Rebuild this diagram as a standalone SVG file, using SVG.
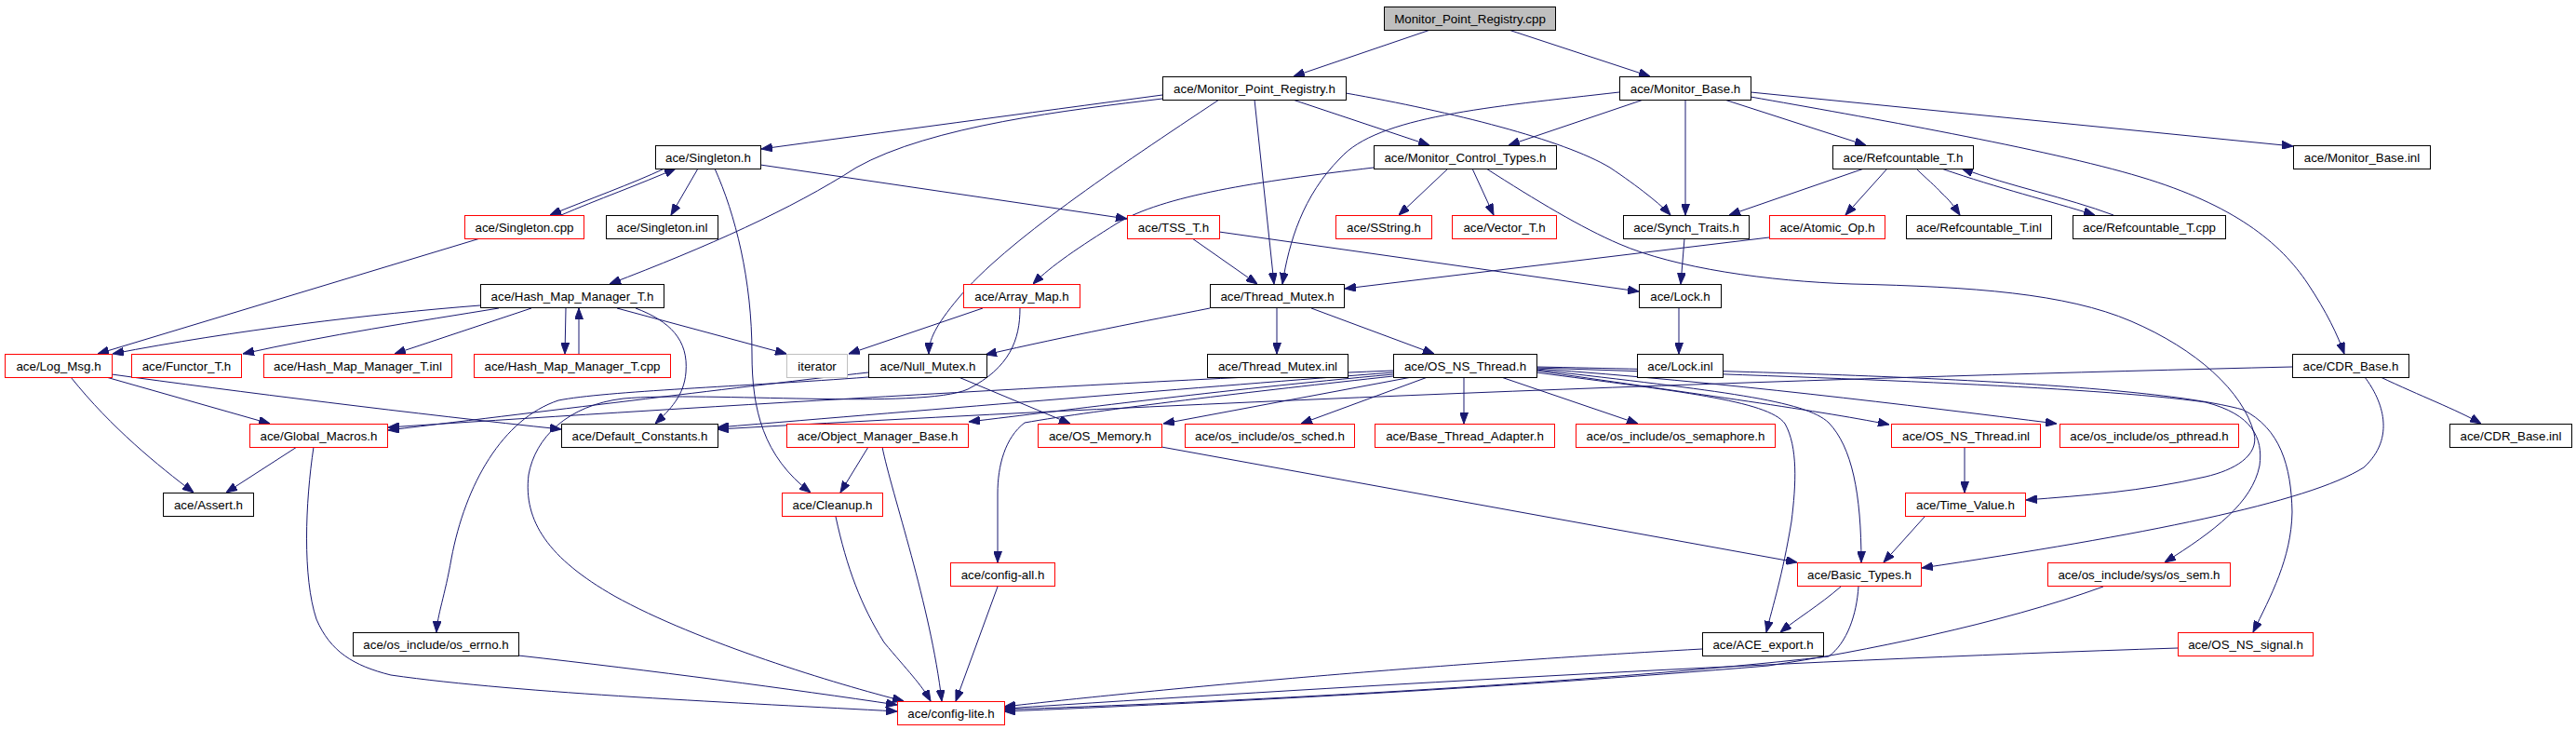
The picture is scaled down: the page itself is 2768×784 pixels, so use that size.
<svg xmlns="http://www.w3.org/2000/svg" width="2768" height="784" viewBox="0 0 2768 784">
<style>
rect{fill:#fff;stroke:#000;stroke-width:1}
.r rect{stroke:#f00}
.gr rect{stroke:#bfbfbf}
.root rect{fill:#bfbfbf}
text{font-family:"Liberation Sans",Arial,sans-serif;font-size:13.33px;text-anchor:middle;fill:#000}
#edges path{fill:none;stroke:#191970;stroke-width:1;marker-end:url(#a)}
</style>
<defs>
<marker id="a" markerWidth="12" markerHeight="9" refX="12" refY="4.5" orient="auto" markerUnits="userSpaceOnUse"><path d="M0,0 L12,4.5 L0,9 z" fill="#191970" stroke="#191970" stroke-width="1"/></marker>
</defs>
<rect x="0" y="0" width="2768" height="784" style="stroke:none;fill:#fff"/>
<g id="edges">
<path d="M1537,32 L1390,82"/>
<path d="M1621,32 L1773,82"/>
<path d="M1249,102 C1100,122 950,142 818,160"/>
<path d="M1249,106 C1150,118 1000,135 920,180 C850,225 760,265 655,305"/>
<path d="M1310,107 C1200,180 1080,260 1030,320 C1005,350 998,365 998,380"/>
<path d="M1348,107 L1369,305"/>
<path d="M1389,107 L1536,156"/>
<path d="M1446,100 C1560,120 1680,150 1730,180 C1760,200 1785,220 1795,231"/>
<path d="M1740,99 C1600,115 1480,125 1440,170 C1400,210 1385,260 1378,305"/>
<path d="M1766,107 L1621,156"/>
<path d="M1811,107 L1811,231"/>
<path d="M1853,107 L2005,156"/>
<path d="M1881,99 L2464,157"/>
<path d="M1881,104 C2000,125 2200,160 2300,190 C2400,220 2450,260 2480,305 C2500,335 2512,360 2519,380"/>
<path d="M714,181 C680,197 630,215 591,231"/>
<path d="M603,231 C640,215 690,197 726,181"/>
<path d="M750,181 L721,231"/>
<path d="M768,181 C790,230 808,300 808,380 C808,440 820,490 871,529"/>
<path d="M817,177 L1211,235"/>
<path d="M1476,180 C1350,195 1250,210 1200,240 C1160,265 1130,285 1110,305"/>
<path d="M1556,181 L1503,231"/>
<path d="M1582,181 L1605,231"/>
<path d="M1597,181 C1650,215 1700,245 1740,262 C1800,288 1900,302 1990,305 C2120,308 2220,315 2290,345 C2360,375 2410,420 2422,465 C2428,490 2400,505 2370,512 C2300,528 2240,532 2177,537"/>
<path d="M2003,181 L1858,231"/>
<path d="M2028,181 L1983,231"/>
<path d="M2059,181 C2070,192 2080,200 2086,207 C2095,215 2100,222 2106,231"/>
<path d="M2086,181 C2150,203 2200,215 2251,231"/>
<path d="M2271,231 C2220,212 2160,200 2108,181"/>
<path d="M1281,256 L1351,305"/>
<path d="M1310,249 L1761,313"/>
<path d="M1810,256 L1806,305"/>
<path d="M1901,255 L1445,310"/>
<path d="M516,256 L105,380"/>
<path d="M516,328 C400,337 250,355 121,380"/>
<path d="M536,331 C450,345 350,360 261,380"/>
<path d="M571,331 L424,380"/>
<path d="M608,331 L607,380"/>
<path d="M622,380 L622,331"/>
<path d="M663,331 L845,380"/>
<path d="M683,331 C720,345 740,365 737,400 C735,425 720,440 704,455"/>
<path d="M1056,331 L912,380"/>
<path d="M1096,331 C1096,365 1085,395 1040,418 C990,440 760,420 670,428 C610,435 575,470 568,510 C562,560 590,600 660,640 C750,690 900,735 971,753"/>
<path d="M1300,331 C1230,345 1150,360 1059,381"/>
<path d="M1372,331 L1372,380"/>
<path d="M1409,331 L1541,380"/>
<path d="M1804,331 L1804,380"/>
<path d="M76,405 C120,460 170,500 208,529"/>
<path d="M114,405 L290,455"/>
<path d="M120,402 C250,420 450,445 603,461"/>
<path d="M319,480 L243,529"/>
<path d="M337,480 C328,540 325,620 340,665 C355,700 380,715 420,725 C560,745 800,755 964,764"/>
<path d="M933,400 C800,415 600,440 417,462"/>
<path d="M1030,405 L1150,455"/>
<path d="M933,405 C800,415 650,420 600,430 C540,450 500,520 485,600 C478,640 470,660 469,679"/>
<path d="M1497,398 C1200,410 700,440 417,459"/>
<path d="M1497,400 C1300,415 1000,440 771,459"/>
<path d="M2463,394 C2000,405 1400,425 771,461"/>
<path d="M1497,402 C1300,420 1150,440 1041,453"/>
<path d="M1517,405 L1250,455"/>
<path d="M1534,405 L1398,455"/>
<path d="M1497,404 C1350,420 1180,440 1101,454 C1080,470 1072,500 1072,530 L1072,604"/>
<path d="M1573,405 L1573,455"/>
<path d="M1613,405 L1760,455"/>
<path d="M1651,398 C1800,420 1950,440 2030,456"/>
<path d="M1651,396 C1850,410 2050,435 2210,455"/>
<path d="M1651,400 C1800,420 1900,430 1918,455 C1932,480 1930,520 1925,560 C1915,620 1905,650 1898,679"/>
<path d="M1651,397 C1850,420 1940,430 1965,454 C1990,480 2000,530 2000,604"/>
<path d="M1651,395 C1950,405 2250,415 2370,432 C2420,445 2432,470 2428,500 C2420,540 2380,570 2326,604"/>
<path d="M1651,394 C1950,400 2300,410 2410,440 C2450,460 2462,500 2463,550 C2462,600 2440,640 2421,679"/>
<path d="M1248,480 L1931,604"/>
<path d="M2068,555 L2024,604"/>
<path d="M2541,405 C2560,430 2575,470 2540,502 C2480,540 2300,575 2065,610"/>
<path d="M2558,405 C2600,425 2640,440 2666,455"/>
<path d="M2111,480 L2111,529"/>
<path d="M933,480 L903,529"/>
<path d="M948,480 C958,530 1000,650 1012,753"/>
<path d="M898,555 C910,610 925,650 950,690 C975,720 990,735 1000,753"/>
<path d="M1072,630 L1027,753"/>
<path d="M557,704 C700,720 850,740 964,757"/>
<path d="M1829,697 C1500,715 1200,745 1079,759"/>
<path d="M1997,630 C1995,660 1985,690 1965,705 C1700,735 1300,755 1079,762"/>
<path d="M2260,630 C2150,670 2000,700 1900,715 C1600,740 1300,755 1079,764"/>
<path d="M2340,696 C1900,710 1400,740 1079,761"/>
<path d="M1978,630 C1955,650 1930,665 1913,679"/>
</g>
<g id="n_mprcpp" class="root"><rect x="1487.5" y="7.5" width="184" height="25"/><text x="1579.5" y="24.5">Monitor_Point_Registry.cpp</text></g>
<g id="n_mprh"><rect x="1249.5" y="82.5" width="197" height="25"/><text x="1348" y="99.5">ace/Monitor_Point_Registry.h</text></g>
<g id="n_mbh"><rect x="1740.5" y="82.5" width="141" height="25"/><text x="1811" y="99.5">ace/Monitor_Base.h</text></g>
<g id="n_singh"><rect x="704.5" y="156.5" width="113" height="25"/><text x="761" y="173.5">ace/Singleton.h</text></g>
<g id="n_mct"><rect x="1476.5" y="156.5" width="196" height="25"/><text x="1574.5" y="173.5">ace/Monitor_Control_Types.h</text></g>
<g id="n_refch"><rect x="1969.5" y="156.5" width="151" height="25"/><text x="2045" y="173.5">ace/Refcountable_T.h</text></g>
<g id="n_mbinl"><rect x="2464.5" y="156.5" width="147" height="25"/><text x="2538" y="173.5">ace/Monitor_Base.inl</text></g>
<g id="n_singcpp" class="r"><rect x="499.5" y="231.5" width="128" height="25"/><text x="563.5" y="248.5">ace/Singleton.cpp</text></g>
<g id="n_singinl"><rect x="651.5" y="231.5" width="120" height="25"/><text x="711.5" y="248.5">ace/Singleton.inl</text></g>
<g id="n_tss" class="r"><rect x="1211.5" y="231.5" width="99" height="25"/><text x="1261" y="248.5">ace/TSS_T.h</text></g>
<g id="n_sstring" class="r"><rect x="1435.5" y="231.5" width="103" height="25"/><text x="1487" y="248.5">ace/SString.h</text></g>
<g id="n_vector" class="r"><rect x="1560.5" y="231.5" width="112" height="25"/><text x="1616.5" y="248.5">ace/Vector_T.h</text></g>
<g id="n_synch"><rect x="1744.5" y="231.5" width="135" height="25"/><text x="1812" y="248.5">ace/Synch_Traits.h</text></g>
<g id="n_atomic" class="r"><rect x="1901.5" y="231.5" width="124" height="25"/><text x="1963.5" y="248.5">ace/Atomic_Op.h</text></g>
<g id="n_refcinl"><rect x="2048.5" y="231.5" width="156" height="25"/><text x="2126.5" y="248.5">ace/Refcountable_T.inl</text></g>
<g id="n_refccpp"><rect x="2227.5" y="231.5" width="164" height="25"/><text x="2309.5" y="248.5">ace/Refcountable_T.cpp</text></g>
<g id="n_hmmh"><rect x="516.5" y="305.5" width="197" height="25"/><text x="615" y="322.5">ace/Hash_Map_Manager_T.h</text></g>
<g id="n_arraymap" class="r"><rect x="1035.5" y="305.5" width="125" height="25"/><text x="1098" y="322.5">ace/Array_Map.h</text></g>
<g id="n_tmh"><rect x="1300.5" y="305.5" width="144" height="25"/><text x="1372.5" y="322.5">ace/Thread_Mutex.h</text></g>
<g id="n_lockh"><rect x="1761.5" y="305.5" width="88" height="25"/><text x="1805.5" y="322.5">ace/Lock.h</text></g>
<g id="n_logmsg" class="r"><rect x="5.5" y="380.5" width="115" height="25"/><text x="63" y="397.5">ace/Log_Msg.h</text></g>
<g id="n_functor" class="r"><rect x="141.5" y="380.5" width="118" height="25"/><text x="200.5" y="397.5">ace/Functor_T.h</text></g>
<g id="n_hmminl" class="r"><rect x="283.5" y="380.5" width="202" height="25"/><text x="384.5" y="397.5">ace/Hash_Map_Manager_T.inl</text></g>
<g id="n_hmmcpp" class="r"><rect x="509.5" y="380.5" width="211" height="25"/><text x="615" y="397.5">ace/Hash_Map_Manager_T.cpp</text></g>
<g id="n_iterator" class="gr"><rect x="845.5" y="380.5" width="65" height="25"/><text x="878" y="397.5">iterator</text></g>
<g id="n_nullmutex"><rect x="933.5" y="380.5" width="127" height="25"/><text x="997" y="397.5">ace/Null_Mutex.h</text></g>
<g id="n_tminl"><rect x="1297.5" y="380.5" width="151" height="25"/><text x="1373" y="397.5">ace/Thread_Mutex.inl</text></g>
<g id="n_osnsthread"><rect x="1497.5" y="380.5" width="154" height="25"/><text x="1574.5" y="397.5">ace/OS_NS_Thread.h</text></g>
<g id="n_lockinl"><rect x="1759.5" y="380.5" width="92" height="25"/><text x="1805.5" y="397.5">ace/Lock.inl</text></g>
<g id="n_cdrh"><rect x="2463.5" y="380.5" width="125" height="25"/><text x="2526" y="397.5">ace/CDR_Base.h</text></g>
<g id="n_globalmacros" class="r"><rect x="268.5" y="455.5" width="148" height="25"/><text x="342.5" y="472.5">ace/Global_Macros.h</text></g>
<g id="n_defconst"><rect x="603.5" y="455.5" width="168" height="25"/><text x="687.5" y="472.5">ace/Default_Constants.h</text></g>
<g id="n_omb" class="r"><rect x="845.5" y="455.5" width="195" height="25"/><text x="943" y="472.5">ace/Object_Manager_Base.h</text></g>
<g id="n_osmemory" class="r"><rect x="1115.5" y="455.5" width="133" height="25"/><text x="1182" y="472.5">ace/OS_Memory.h</text></g>
<g id="n_ossched" class="r"><rect x="1273.5" y="455.5" width="182" height="25"/><text x="1364.5" y="472.5">ace/os_include/os_sched.h</text></g>
<g id="n_bta" class="r"><rect x="1477.5" y="455.5" width="193" height="25"/><text x="1574" y="472.5">ace/Base_Thread_Adapter.h</text></g>
<g id="n_ossemaphore" class="r"><rect x="1693.5" y="455.5" width="214" height="25"/><text x="1800.5" y="472.5">ace/os_include/os_semaphore.h</text></g>
<g id="n_osnsthreadinl" class="r"><rect x="2032.5" y="455.5" width="160" height="25"/><text x="2112.5" y="472.5">ace/OS_NS_Thread.inl</text></g>
<g id="n_ospthread" class="r"><rect x="2213.5" y="455.5" width="192" height="25"/><text x="2309.5" y="472.5">ace/os_include/os_pthread.h</text></g>
<g id="n_cdrinl"><rect x="2632.5" y="455.5" width="131" height="25"/><text x="2698" y="472.5">ace/CDR_Base.inl</text></g>
<g id="n_assert"><rect x="175.5" y="529.5" width="97" height="25"/><text x="224" y="546.5">ace/Assert.h</text></g>
<g id="n_cleanup" class="r"><rect x="840.5" y="529.5" width="108" height="25"/><text x="894.5" y="546.5">ace/Cleanup.h</text></g>
<g id="n_timevalue" class="r"><rect x="2047.5" y="529.5" width="129" height="25"/><text x="2112" y="546.5">ace/Time_Value.h</text></g>
<g id="n_configall" class="r"><rect x="1021.5" y="604.5" width="112" height="25"/><text x="1077.5" y="621.5">ace/config-all.h</text></g>
<g id="n_basictypes" class="r"><rect x="1931.5" y="604.5" width="133" height="25"/><text x="1998" y="621.5">ace/Basic_Types.h</text></g>
<g id="n_ossem" class="r"><rect x="2200.5" y="604.5" width="196" height="25"/><text x="2298.5" y="621.5">ace/os_include/sys/os_sem.h</text></g>
<g id="n_oserrno"><rect x="379.5" y="679.5" width="178" height="25"/><text x="468.5" y="696.5">ace/os_include/os_errno.h</text></g>
<g id="n_aceexport"><rect x="1829.5" y="679.5" width="130" height="25"/><text x="1894.5" y="696.5">ace/ACE_export.h</text></g>
<g id="n_osnssignal" class="r"><rect x="2340.5" y="679.5" width="145" height="25"/><text x="2413" y="696.5">ace/OS_NS_signal.h</text></g>
<g id="n_configlite" class="r"><rect x="964.5" y="753.5" width="115" height="25"/><text x="1022" y="770.5">ace/config-lite.h</text></g>
</svg>
